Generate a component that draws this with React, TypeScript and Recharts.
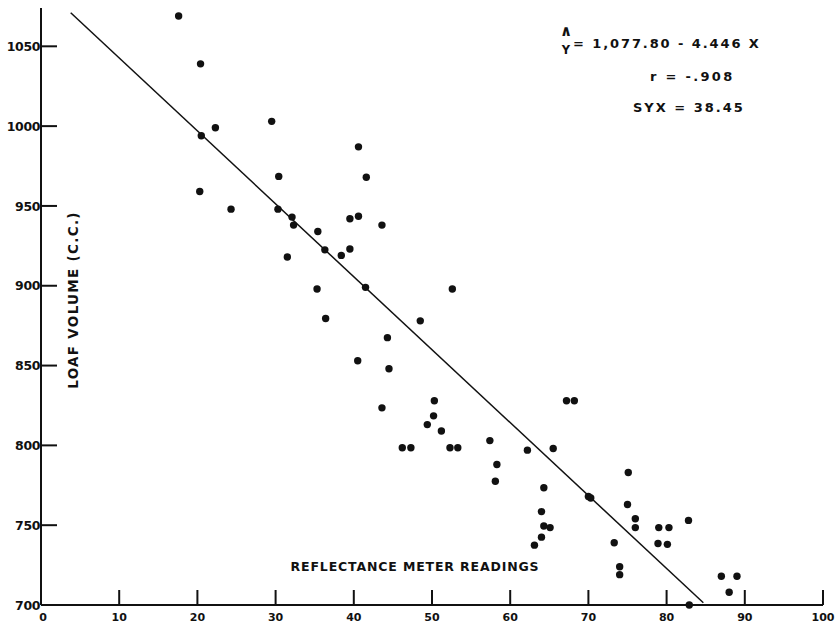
import { ScatterChart, Scatter, XAxis, YAxis, ReferenceLine } from 'recharts';

// reflectance meter reading (x) and loaf volume in c.c. (y)
const reflectance = [
  17.6, 20.4, 22.3, 20.5, 29.5, 30.4, 20.3, 24.3, 30.3, 40.6,
  41.6, 32.1, 32.3, 39.5, 40.6, 43.6, 35.4, 36.3, 39.5, 38.4,
  31.5, 35.3, 41.5, 52.6, 36.4, 48.5, 44.3, 40.5, 44.5, 43.6,
  50.3, 50.2, 49.4, 51.2, 46.2, 47.3, 52.3, 53.3, 57.4, 58.3,
  58.1, 62.2, 65.5, 64.3, 64.0, 64.3, 65.1, 64.0, 63.1, 67.2,
  68.2, 70.0, 70.3, 75.1, 75.0, 76.0, 76.0, 73.3, 74.0, 74.0,
  79.0, 80.3, 78.9, 80.1, 82.8, 82.9, 87.0, 89.0, 88.0,
];
const loafVolume = [
  1069, 1039, 999, 994, 1003, 968.5, 959, 948, 948, 987,
  968, 943, 938, 942, 943.5, 938, 934, 922.5, 923, 919,
  918, 898, 899, 898, 879.5, 878, 867.5, 853, 848, 823.5,
  828, 818.5, 813, 809, 798.5, 798.5, 798.5, 798.5, 803, 788,
  777.5, 797, 798, 773.5, 758.5, 749.5, 748.5, 742.5, 737.5, 828,
  828, 768, 767, 783, 763, 754, 748.5, 739, 724, 719,
  748.5, 748.5, 738.5, 738, 753, 700, 718, 718, 708,
];

// ends of the fitted line as drawn
const fitX = [3.8, 84.7];
const fitY = [1071, 701.4];

const xTicks = [0, 10, 20, 30, 40, 50, 60, 70, 80, 90, 100];
const yTicks = [700, 750, 800, 850, 900, 950, 1000, 1050];

const points = reflectance.map((x, i) => ({ x, y: loafVolume[i] }));

const ink = '#111';
const font = '"DejaVu Sans", sans-serif';

// tick marks point into the plot: negative tick size, margin pushes labels back out
const xTickLen = 15;
const yTickLen = 16;

const XTick = (props: any) => {
  const { x, y, payload } = props;
  return (
    <text
      x={payload.value === 0 ? x + 2 : x}
      y={y + 16}
      textAnchor="middle"
      fontFamily={font}
      fontWeight="bold"
      fontSize={11}
      fill={ink}
    >
      {payload.value}
    </text>
  );
};

const YTick = (props: any) => {
  const { x, y, payload } = props;
  return (
    <text
      x={x - 1}
      y={y}
      dy={4.6}
      textAnchor="end"
      fontFamily={font}
      fontWeight="bold"
      fontSize={12.5}
      letterSpacing={-0.4}
      fill={ink}
    >
      {payload.value}
    </text>
  );
};

const Dot = (props: any) => <circle cx={props.cx} cy={props.cy} r={3.7} fill={ink} />;

const textStyle = { fontFamily: font, fontWeight: 'bold' as const, fill: ink };

export default function App() {
  return (
    <div style={{ position: 'absolute', left: 0, top: 0, width: 838, height: 628, background: '#fff' }}>
      <ScatterChart width={838} height={628} margin={{ top: 8, right: 15, bottom: 0, left: 0 }}>
        <XAxis
          type="number"
          dataKey="x"
          domain={[0, 100]}
          ticks={xTicks}
          height={23}
          tickSize={-xTickLen}
          tickMargin={xTickLen}
          tickLine={{ stroke: ink, strokeWidth: 2 }}
          tick={<XTick />}
          axisLine={{ stroke: ink, strokeWidth: 2 }}
        />
        <YAxis
          type="number"
          dataKey="y"
          domain={[700, 1074]}
          ticks={yTicks}
          width={41}
          tickSize={-yTickLen}
          tickMargin={yTickLen}
          tickLine={{ stroke: ink, strokeWidth: 2 }}
          tick={<YTick />}
          axisLine={{ stroke: ink, strokeWidth: 2 }}
        />
        <ReferenceLine
          segment={[
            { x: fitX[0], y: fitY[0] },
            { x: fitX[1], y: fitY[1] },
          ]}
          stroke={ink}
          strokeWidth={1.5}
        />
        <Scatter data={points} shape={<Dot />} isAnimationActive={false} />
      </ScatterChart>
      <svg
        width={838}
        height={628}
        style={{ position: 'absolute', left: 0, top: 0, pointerEvents: 'none' }}
      >
        <text x={415} y={571} textAnchor="middle" fontSize={12.5} letterSpacing={0.85} {...textStyle}>
          REFLECTANCE METER READINGS
        </text>
        <text
          x={78}
          y={300}
          transform="rotate(-90 78 300)"
          textAnchor="middle"
          fontSize={13.5}
          letterSpacing={1.3}
          {...textStyle}
        >
          LOAF VOLUME (C.C.)
        </text>
        <text x={566} y={36} textAnchor="middle" fontSize={15} {...textStyle}>∧</text>
        <text x={566} y={54} textAnchor="middle" fontSize={11.5} {...textStyle}>Y</text>
        <text x={573} y={47.5} fontSize={13} letterSpacing={1.9} {...textStyle}>
          = 1,077.80 - 4.446 X
        </text>
        <text x={650} y={80.7} fontSize={13} letterSpacing={2.3} {...textStyle}>
          r = -.908
        </text>
        <text x={633} y={111.7} fontSize={13} letterSpacing={2} {...textStyle}>
          SYX = 38.45
        </text>
      </svg>
    </div>
  );
}
